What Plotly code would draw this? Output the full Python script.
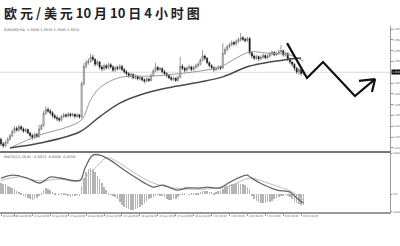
import plotly.graph_objects as go

# ---- EURUSD H4 price bars ----
bar_open = [1.3262, 1.3245, 1.3238, 1.3250, 1.3262, 1.3275, 1.3290, 1.3302, 1.3296, 1.3308,
            1.3300, 1.3292, 1.3298, 1.3285, 1.3276, 1.3268, 1.3280, 1.3272, 1.3300, 1.3312,
            1.3358, 1.3372, 1.3366, 1.3360, 1.3349, 1.3342, 1.3338, 1.3333, 1.3346, 1.3352,
            1.3348, 1.3356, 1.3350, 1.3354, 1.3347, 1.3352, 1.3345, 1.3468, 1.3532, 1.3545,
            1.3552, 1.3566, 1.3558, 1.3540, 1.3548, 1.3530, 1.3522, 1.3534, 1.3527, 1.3538,
            1.3530, 1.3518, 1.3528, 1.3524, 1.3532, 1.3520, 1.3512, 1.3505, 1.3498, 1.3502,
            1.3490, 1.3495, 1.3486, 1.3490, 1.3482, 1.3478, 1.3485, 1.3480, 1.3498, 1.3515,
            1.3528, 1.3520, 1.3524, 1.3512, 1.3505, 1.3498, 1.3490, 1.3484, 1.3488, 1.3480,
            1.3492, 1.3532, 1.3525, 1.3518, 1.3526, 1.3530, 1.3520, 1.3528, 1.3534, 1.3540,
            1.3555, 1.3570, 1.3562, 1.3546, 1.3535, 1.3528, 1.3520, 1.3524, 1.3530, 1.3526,
            1.3580, 1.3594, 1.3605, 1.3612, 1.3620, 1.3615, 1.3625, 1.3630, 1.3638, 1.3632,
            1.3628, 1.3635, 1.3582, 1.3570, 1.3562, 1.3568, 1.3560, 1.3566, 1.3572, 1.3564,
            1.3570, 1.3578, 1.3584, 1.3575, 1.3580, 1.3586, 1.3590, 1.3574, 1.3580, 1.3560,
            1.3548, 1.3540, 1.3525, 1.3512, 1.3520, 1.3506]
bar_high = [1.3268, 1.3252, 1.3256, 1.3270, 1.3282, 1.3298, 1.3312, 1.3310, 1.3316, 1.3314,
            1.3306, 1.3305, 1.3302, 1.3290, 1.3282, 1.3286, 1.3286, 1.3316, 1.3320, 1.3366,
            1.3384, 1.3380, 1.3374, 1.3366, 1.3356, 1.3350, 1.3345, 1.3352, 1.3360, 1.3358,
            1.3362, 1.3360, 1.3360, 1.3358, 1.3358, 1.3356, 1.3476, 1.3544, 1.3556, 1.3562,
            1.3578, 1.3574, 1.3562, 1.3556, 1.3552, 1.3536, 1.3542, 1.3540, 1.3546, 1.3544,
            1.3536, 1.3534, 1.3534, 1.3540, 1.3538, 1.3526, 1.3518, 1.3510, 1.3508, 1.3506,
            1.3502, 1.3500, 1.3496, 1.3495, 1.3488, 1.3492, 1.3490, 1.3505, 1.3522, 1.3545,
            1.3534, 1.3530, 1.3528, 1.3518, 1.3510, 1.3504, 1.3496, 1.3494, 1.3492, 1.3498,
            1.3567, 1.3540, 1.3530, 1.3532, 1.3538, 1.3534, 1.3535, 1.3542, 1.3548, 1.3562,
            1.3592, 1.3576, 1.3566, 1.3550, 1.3540, 1.3532, 1.3530, 1.3536, 1.3535, 1.3618,
            1.3602, 1.3612, 1.3620, 1.3628, 1.3626, 1.3632, 1.3638, 1.3656, 1.3644, 1.3638,
            1.3642, 1.3640, 1.3588, 1.3576, 1.3575, 1.3572, 1.3572, 1.3580, 1.3576, 1.3576,
            1.3585, 1.3590, 1.3588, 1.3586, 1.3594, 1.3611, 1.3594, 1.3586, 1.3584, 1.3564,
            1.3552, 1.3544, 1.3530, 1.3526, 1.3524, 1.3516]
bar_low = [1.3236, 1.3230, 1.3232, 1.3244, 1.3256, 1.3270, 1.3284, 1.3290, 1.3290, 1.3294,
           1.3286, 1.3287, 1.3280, 1.3270, 1.3260, 1.3263, 1.3266, 1.3268, 1.3296, 1.3308,
           1.3352, 1.3360, 1.3352, 1.3342, 1.3336, 1.3330, 1.3326, 1.3328, 1.3340, 1.3342,
           1.3343, 1.3344, 1.3345, 1.3340, 1.3342, 1.3338, 1.3340, 1.3460, 1.3524, 1.3538,
           1.3546, 1.3550, 1.3532, 1.3534, 1.3522, 1.3514, 1.3516, 1.3520, 1.3522, 1.3524,
           1.3512, 1.3512, 1.3517, 1.3518, 1.3514, 1.3506, 1.3498, 1.3490, 1.3492, 1.3484,
           1.3484, 1.3480, 1.3480, 1.3476, 1.3470, 1.3472, 1.3474, 1.3476, 1.3494, 1.3510,
           1.3514, 1.3514, 1.3506, 1.3498, 1.3490, 1.3484, 1.3478, 1.3478, 1.3474, 1.3476,
           1.3488, 1.3518, 1.3510, 1.3512, 1.3520, 1.3514, 1.3515, 1.3522, 1.3528, 1.3535,
           1.3550, 1.3555, 1.3540, 1.3528, 1.3520, 1.3512, 1.3514, 1.3518, 1.3518, 1.3522,
           1.3574, 1.3588, 1.3598, 1.3606, 1.3608, 1.3610, 1.3618, 1.3624, 1.3626, 1.3620,
           1.3622, 1.3576, 1.3562, 1.3555, 1.3556, 1.3552, 1.3554, 1.3560, 1.3558, 1.3558,
           1.3564, 1.3572, 1.3570, 1.3570, 1.3575, 1.3580, 1.3568, 1.3568, 1.3552, 1.3540,
           1.3530, 1.3516, 1.3504, 1.3500, 1.3498, 1.3500]
bar_close = [1.3245, 1.3238, 1.3250, 1.3262, 1.3275, 1.3290, 1.3302, 1.3296, 1.3308, 1.3300,
             1.3292, 1.3298, 1.3285, 1.3276, 1.3268, 1.3280, 1.3272, 1.3300, 1.3312, 1.3358,
             1.3372, 1.3366, 1.3360, 1.3349, 1.3342, 1.3338, 1.3333, 1.3346, 1.3352, 1.3348,
             1.3356, 1.3350, 1.3354, 1.3347, 1.3352, 1.3345, 1.3468, 1.3532, 1.3545, 1.3552,
             1.3566, 1.3558, 1.3540, 1.3548, 1.3530, 1.3522, 1.3534, 1.3527, 1.3538, 1.3530,
             1.3518, 1.3528, 1.3524, 1.3532, 1.3520, 1.3512, 1.3505, 1.3498, 1.3502, 1.3490,
             1.3495, 1.3486, 1.3490, 1.3482, 1.3478, 1.3485, 1.3480, 1.3498, 1.3515, 1.3528,
             1.3520, 1.3524, 1.3512, 1.3505, 1.3498, 1.3490, 1.3484, 1.3488, 1.3480, 1.3492,
             1.3532, 1.3525, 1.3518, 1.3526, 1.3530, 1.3520, 1.3528, 1.3534, 1.3540, 1.3555,
             1.3570, 1.3562, 1.3546, 1.3535, 1.3528, 1.3520, 1.3524, 1.3530, 1.3526, 1.3580,
             1.3594, 1.3605, 1.3612, 1.3620, 1.3615, 1.3625, 1.3630, 1.3638, 1.3632, 1.3628,
             1.3635, 1.3582, 1.3570, 1.3562, 1.3568, 1.3560, 1.3566, 1.3572, 1.3564, 1.3570,
             1.3578, 1.3584, 1.3575, 1.3580, 1.3586, 1.3590, 1.3574, 1.3580, 1.3560, 1.3548,
             1.3540, 1.3525, 1.3512, 1.3520, 1.3506, 1.3510]
bar_index = list(range(len(bar_close)))

# ---- moving averages (bar index, price) ----
ma_fast_x = [4, 17.4, 29.5, 36, 40, 44, 50, 54.5, 66.5, 74, 89, 98, 103.6, 111, 118.75, 129, 135]
ma_fast_y = [1.3230, 1.3278, 1.3307, 1.3334, 1.3408, 1.3452, 1.3482, 1.3493, 1.3496, 1.3500,
             1.3515, 1.3530, 1.3556, 1.3585, 1.3581, 1.3574, 1.3552]
ma_slow_x = [4, 17.4, 35, 44, 53, 62, 74, 89, 99, 111, 129, 134]
ma_slow_y = [1.3230, 1.3248, 1.3289, 1.3345, 1.3396, 1.3426, 1.3452, 1.3474, 1.3493, 1.3533,
             1.3559, 1.3563]

# ---- MACD panel ----
macd_x = [0, 5.4, 11.6, 17.4, 21.9, 26.3, 35.3, 37.5, 41, 44.2, 48.7, 56.3, 63.4, 67.9, 72.3,
          78.6, 83, 88.8, 92, 97.8, 102.2, 109.8, 111.2, 115.6, 123.2, 129, 132, 135]
macd_main = [0.00234, 0.00277, 0.00234, 0.00161, 0.00248, 0.00234, 0.00204, 0.00380, 0.00569,
             0.00569, 0.00496, 0.00321, 0.00175, 0.00102, 0.00131, 0.00058, 0.00088, 0.00088,
             0.00102, 0.00088, 0.00175, 0.00277, 0.00248, 0.00161, 0.00058, 0.00029, -0.00058,
             -0.00130]
signal_x = [0, 8.5, 17.4, 26, 35, 42, 47.3, 53, 59, 68, 77, 89, 102, 111, 120, 130, 135]
signal_line = [0.0020, 0.0025, 0.0019, 0.0022, 0.0019, 0.0038, 0.0053, 0.0045, 0.0032, 0.0016,
               0.0009, 0.0007, 0.0012, 0.0023, 0.0015, 0.0003, -0.0009]
osma = [0.0016, 0.0015, 0.0014, 0.0012, 0.0010, 0.0009, 0.0008,
        0.0005, 0.0003, 0.0001,
        -0.0002, -0.0004, -0.0006, -0.0008, -0.0009, -0.0008, -0.0006, -0.0003,
        0.0002, 0.0006, 0.0009, 0.0008, 0.0006, 0.0003,
        0.0001, 0.0000, -0.0001, 0.0001, 0.0001, -0.0001, -0.0003, -0.0004, -0.0003, -0.0002,
        -0.0001, -0.0002,
        0.0012, 0.0024, 0.0032, 0.0036, 0.0038, 0.0036, 0.0032, 0.0027, 0.0022, 0.0016, 0.0011,
        0.0006, 0.0002,
        -0.0001, -0.0003, -0.0005,
        -0.0008, -0.0012, -0.0016, -0.0019, -0.0021, -0.0022, -0.0023, -0.0023, -0.0022,
        -0.0021, -0.0019, -0.0016, -0.0013, -0.0010, -0.0008, -0.0006, -0.0004,
        -0.0002, -0.0001, -0.0002, -0.0003, -0.0005,
        -0.0007, -0.0009, -0.0009, -0.0008, -0.0007, -0.0005,
        -0.0001, 0.0001, 0.0001, 0.0000, -0.0001, 0.0001, 0.0002, 0.0001, 0.0002,
        0.0003, 0.0004, 0.0005, 0.0004, 0.0003, 0.0003, 0.0002, 0.0003, 0.0004,
        0.0005, 0.0008, 0.0010, 0.0012, 0.0013, 0.0014, 0.0015, 0.0016, 0.0016, 0.0015, 0.0014,
        0.0013, 0.0011, 0.0008,
        -0.0003, -0.0007, -0.0010, -0.0012, -0.0013, -0.0013, -0.0013, -0.0012, -0.0011,
        -0.0010, -0.0008, -0.0006, -0.0005,
        -0.0003, -0.0002, -0.0001, -0.0002, -0.0005,
        -0.0008, -0.0011, -0.0013, -0.0015, -0.0016, -0.0016]

# ---- projected path (bar index, price), arrow wings after the tip ----
path_x = [127.7, 136.6, 143.75, 158, 167, 159.8, None, 167, 165.6]
path_y = [1.3618, 1.3489, 1.3548, 1.3422, 1.3485, 1.3478, None, 1.3485, 1.3437]

# ---- axis labels ----
price_ticks = [1.3670, 1.3630, 1.3590, 1.3550, 1.3470, 1.3430, 1.3390, 1.3350, 1.3310, 1.3270, 1.3230]
macd_ticks = [0.0060, 0.0, -0.0026]
macd_tick_text = ["0.0060", "0.00", "-0.0026"]
time_tick_pos = [0, 6, 14, 22, 30, 38, 46, 54, 62, 70, 78, 86, 94, 102, 110, 118, 126, 134]
time_tick_text = ["10 Sep 2013", "11 Sep 00:00", "12 Sep 08:00", "13 Sep 16:00", "17 Sep 00:00",
                  "18 Sep 08:00", "19 Sep 16:00", "23 Sep 00:00", "24 Sep 08:00", "25 Sep 16:00",
                  "27 Sep 00:00", "30 Sep 08:00", "1 Oct 16:00", "3 Oct 00:00", "4 Oct 08:00",
                  "7 Oct 16:00", "9 Oct 00:00", "10 Oct 08:00"]

title_text = "欧 元 / 美 元 10 月 10 日 4 小 时 图"
last_price = bar_close[-1]

W, H = 400, 246
SMALL = dict(family="DejaVu Sans", size=3.5, color="#555")
AXIS_FONT = dict(family="DejaVu Sans Condensed", size=2.6, color="#555")
MACD_AXIS_FONT = dict(family="DejaVu Sans Condensed", size=2.3, color="#555")

fig = go.Figure()

fig.add_trace(go.Candlestick(
    x=bar_index, open=bar_open, high=bar_high, low=bar_low, close=bar_close,
    increasing=dict(line=dict(color="#555", width=0.6), fillcolor="white"),
    decreasing=dict(line=dict(color="#111", width=0.6), fillcolor="#111"),
    whiskerwidth=0, xaxis="x", yaxis="y", showlegend=False, hoverinfo="skip"))

fig.add_trace(go.Scatter(x=ma_fast_x, y=ma_fast_y, mode="lines", line=dict(color="#999", width=1, shape="spline"),
                         xaxis="x", yaxis="y", showlegend=False, hoverinfo="skip"))
fig.add_trace(go.Scatter(x=ma_slow_x, y=ma_slow_y, mode="lines", line=dict(color="#4a4a4a", width=1.5, shape="spline"),
                         xaxis="x", yaxis="y", showlegend=False, hoverinfo="skip"))
fig.add_trace(go.Scatter(x=path_x, y=path_y, mode="lines", line=dict(color="#111", width=2.2),
                         connectgaps=False, xaxis="x", yaxis="y", showlegend=False, hoverinfo="skip"))

fig.add_trace(go.Bar(x=bar_index, y=osma, marker=dict(color="#b4b4b4", line=dict(width=0)), width=0.28,
                     xaxis="x2", yaxis="y2", showlegend=False, hoverinfo="skip"))
fig.add_trace(go.Scatter(x=signal_x, y=signal_line, mode="lines", line=dict(color="#bbb", width=1, shape="spline"),
                         xaxis="x2", yaxis="y2", showlegend=False, hoverinfo="skip"))
fig.add_trace(go.Scatter(x=macd_x, y=macd_main, mode="lines", line=dict(color="#666", width=1.3, shape="spline"),
                         xaxis="x2", yaxis="y2", showlegend=False, hoverinfo="skip"))

x_right = 390 / W
main_top, main_bot = 26, 151
macd_top, macd_bot = 153, 212
x_range = [-0.45, 173.66]

fig.update_layout(
    width=W, height=H, margin=dict(l=0, r=0, t=0, b=0),
    paper_bgcolor="white", plot_bgcolor="white",
    xaxis=dict(domain=[0, x_right], range=x_range, showgrid=False, zeroline=False,
               showticklabels=False, showline=True, linecolor="#777", linewidth=2,
               rangeslider=dict(visible=False), anchor="y"),
    yaxis=dict(domain=[1 - main_bot / H, 1 - main_top / H], range=[1.32185, 1.36815],
               side="right", showgrid=False, zeroline=False, showline=True, linecolor="#999",
               linewidth=1.2, tickvals=price_ticks, tickformat=".4f", ticks="outside",
               ticklen=1.5, tickcolor="#999", tickfont=AXIS_FONT, automargin=False, anchor="x"),
    xaxis2=dict(domain=[0, x_right], range=x_range, matches="x", showgrid=False, zeroline=False,
                showline=True, linecolor="#999", linewidth=2, tickvals=time_tick_pos,
                ticktext=time_tick_text, ticks="outside", ticklen=1.5, tickcolor="#999",
                tickangle=0, tickfont=AXIS_FONT,
                ticklabelposition="outside right", automargin=False, anchor="y2"),
    yaxis2=dict(domain=[1 - macd_bot / H, 1 - macd_top / H], range=[-0.00263, 0.0060],
                side="right", showgrid=False, zeroline=False, showline=True, linecolor="#999",
                linewidth=1.2, tickvals=macd_ticks, ticktext=macd_tick_text, ticks="outside",
                ticklen=1, tickcolor="#999", tickfont=MACD_AXIS_FONT, automargin=False, anchor="x2"),
    bargap=0,
)

# current bid line and price tag
fig.add_shape(type="line", xref="x", yref="y", x0=x_range[0], x1=x_range[1],
              y0=last_price, y1=last_price, line=dict(color="#ddd", width=1), layer="below")
fig.add_annotation(xref="paper", yref="y", x=x_right + 0.002, y=last_price, xanchor="left",
                   yanchor="middle", text=f"{last_price:.4f}", showarrow=False,
                   bgcolor="#111", borderpad=0.5, font=dict(family="DejaVu Sans Condensed", size=2.6, color="white"))

fig.add_annotation(xref="paper", yref="paper", x=0.004, y=1 - 1 / H, xanchor="left", yanchor="top",
                   text=title_text, showarrow=False,
                   font=dict(family="Noto Sans CJK SC", size=13, color="#222", weight="bold"))
fig.add_annotation(xref="paper", yref="paper", x=0.004, y=1 - 26 / H, xanchor="left", yanchor="top",
                   text="EURUSD,H4  1.3506 1.3516 1.3500 1.3510", showarrow=False, font=SMALL)
fig.add_annotation(xref="paper", yref="paper", x=0.004, y=1 - 153 / H, xanchor="left", yanchor="top",
                   text="MACD(12,26,9)  -0.0013 -0.0009 -0.0016", showarrow=False, font=SMALL)

fig.write_html("out.html")
